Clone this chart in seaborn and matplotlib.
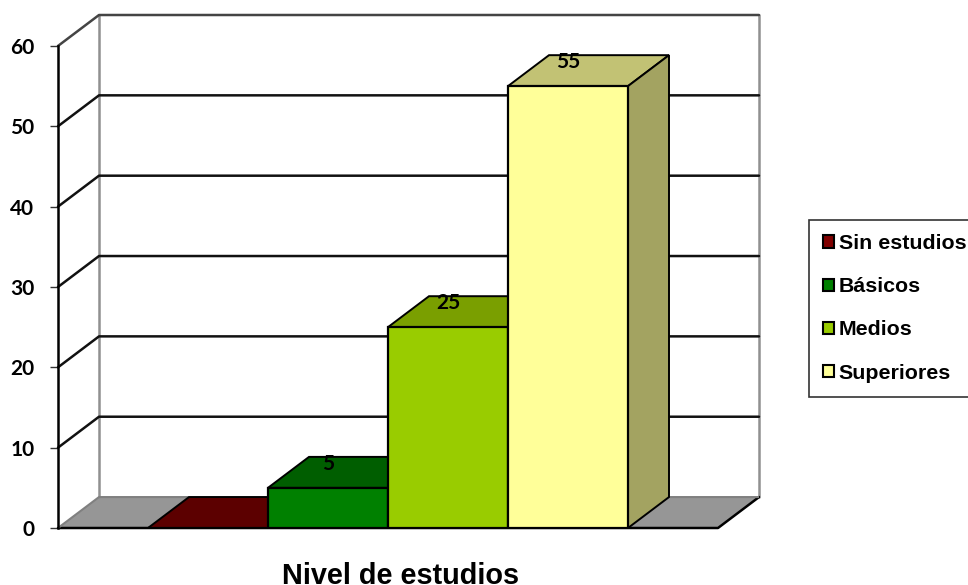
import matplotlib
matplotlib.use("Agg")
import matplotlib.pyplot as plt
import pandas as pd
import seaborn as sns
from matplotlib.patches import Patch, Polygon

# Data
niveles = ["Sin estudios", "Básicos", "Medios", "Superiores"]
valores = [0, 5, 25, 55]
y_ticks = [0, 10, 20, 30, 40, 50, 60]

# Colours of each bar: front, top and side face
front_colors = ["#800000", "#008000", "#99cc00", "#ffff99"]
top_colors = ["#5c0000", "#005e00", "#7a9f00", "#c2c274"]
side_colors = ["#4d0000", "#004d00", "#5c7a00", "#a3a361"]
floor_color = "#969696"

# Depth of the fake 3D box, in data units
depth_x = 41 / 120
depth_y = 31 / 8.05

sns.set_theme(style="white")
fig = plt.figure(figsize=(9.68, 5.85), dpi=100)
W, H = 968, 585
ax = fig.add_axes([58 / W, 1 - 528 / H, (759 - 58) / W, (528 - 15) / H])
ax.patch.set_alpha(0)

df = pd.DataFrame({"nivel": niveles, "valor": valores})
sns.barplot(data=df, x="nivel", y="valor", hue="nivel", order=niveles,
            hue_order=niveles, palette=front_colors, saturation=1, width=1,
            dodge=False, legend=False, edgecolor="black", linewidth=1.6, ax=ax,
            zorder=5)

x_left, x_right = -1.25, 4.25
ax.set_xlim(x_left, x_right + depth_x)
ax.set_ylim(0, 60 + depth_y)

# Floor and walls
ax.add_patch(Polygon([(x_left, 0), (x_right, 0), (x_right + depth_x, depth_y),
                      (x_left + depth_x, depth_y)], closed=True,
                     facecolor=floor_color, edgecolor="none", zorder=1))
ax.plot([x_left, x_right, x_right + depth_x], [0, 0, depth_y],
        color="black", lw=1.8, zorder=2, clip_on=False)
ax.plot([x_left, x_left + depth_x, x_right + depth_x], [0, depth_y, depth_y],
        color="#808080", lw=1.5, zorder=2)
for xw in [x_left + depth_x, x_right + depth_x]:
    ax.plot([xw, xw], [depth_y, 60 + depth_y], color="#909090", lw=1.8, zorder=1,
            clip_on=False)
for v in y_ticks[1:]:
    c = "#444444" if v == 60 else "#111111"
    ax.plot([x_left, x_left + depth_x, x_right + depth_x],
            [v, v + depth_y, v + depth_y], color=c, lw=1.8, zorder=2, clip_on=False)

# Top and side faces taken from the bars seaborn drew
bars = sorted([b for c in ax.containers for b in c], key=lambda b: b.get_x())
bars = [b for b in bars if b.get_width() > 0]
for i, bar in enumerate(bars):
    x0 = bar.get_x()
    x1 = x0 + bar.get_width()
    h = bar.get_height()
    bar.set_zorder(5 + 2 * i)
    ax.add_patch(Polygon([(x0, h), (x1, h), (x1 + depth_x, h + depth_y),
                          (x0 + depth_x, h + depth_y)], closed=True,
                         facecolor=top_colors[i], edgecolor="black", lw=1.4,
                         zorder=4 + 2 * i))
    ax.add_patch(Polygon([(x1, 0), (x1, h), (x1 + depth_x, h + depth_y),
                          (x1 + depth_x, depth_y)], closed=True,
                         facecolor=side_colors[i], edgecolor="black", lw=1.4,
                         zorder=4 + 2 * i))
    if valores[i] > 0:
        ax.text(x0 + bar.get_width() / 2, h + 3.0, str(valores[i]), ha="center",
                va="center", fontsize=15, fontweight="bold", family="Lato",
                color="black", zorder=30)

# Axes
sns.despine(ax=ax, top=True, right=True, bottom=True)
ax.spines["left"].set_bounds(0, 60)
ax.spines["left"].set_color("black")
ax.spines["left"].set_linewidth(1.8)
ax.set_xticks([])
ax.set_yticks(y_ticks)
ax.set_yticklabels([str(t) for t in y_ticks], fontsize=15, fontweight="bold",
                   family="Lato", color="black")
ax.tick_params(axis="y", left=True, length=6, width=1, color="#333333", pad=11)
ax.set_ylabel("")
ax.set_xlabel("Nivel de estudios", fontsize=20.8, fontweight="bold",
              family="Liberation Sans", color="black", va="baseline")
ax.xaxis.set_label_coords((400 - 58) / (759 - 58), -(584 - 528) / (528 - 15))

# Legend
handles = [Patch(facecolor=c, edgecolor="black", lw=1.5) for c in front_colors]
leg = fig.legend(handles, niveles, loc="upper left",
                 bbox_to_anchor=(809 / W, 1 - 220 / H), bbox_transform=fig.transFigure,
                 frameon=True, fancybox=False, edgecolor="#333333", framealpha=1,
                 handlelength=0.5, handleheight=0.5, handletextpad=0.22,
                 labelspacing=1.13, borderpad=0.66, borderaxespad=0,
                 labelcolor="black",
                 prop={"family": "Liberation Sans", "weight": "bold", "size": 15.4})
leg.get_frame().set_linewidth(1.2)

fig.savefig("out.png", dpi=100)
